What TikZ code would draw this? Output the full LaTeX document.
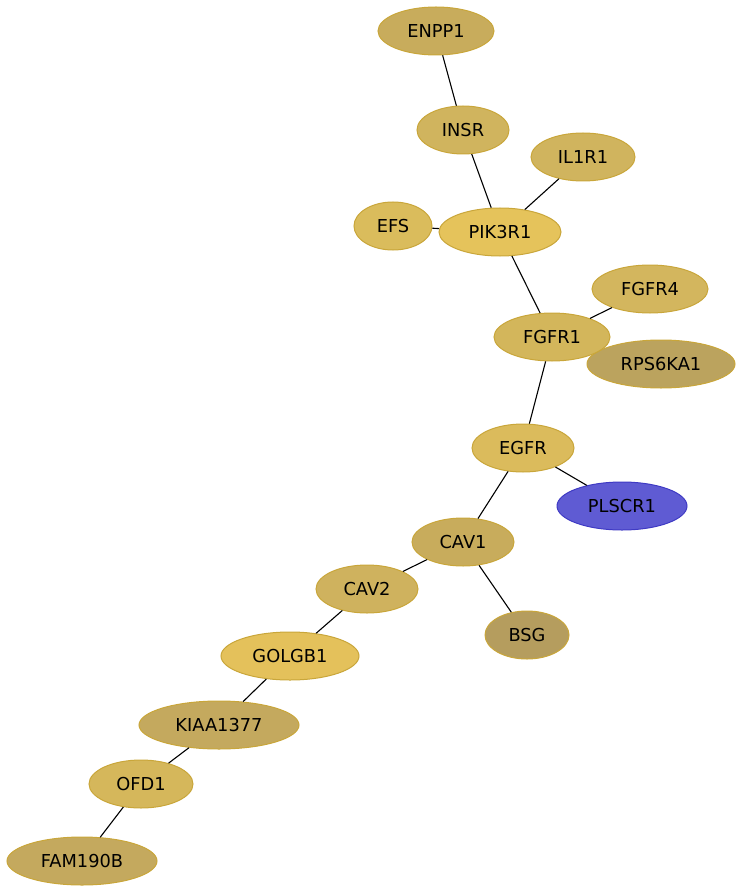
\documentclass[tikz,border=0pt]{standalone}
\usepackage{fontspec}
\setmainfont{DejaVu Sans}
\usetikzlibrary{shapes.geometric}
\definecolor{cENPP}{HTML}{C8AC5C}
\definecolor{cINSR}{HTML}{D0B45E}
\definecolor{cIL}{HTML}{D0B45E}
\definecolor{cEFS}{HTML}{DABC5C}
\definecolor{cPIK}{HTML}{E5C35B}
\definecolor{cFGFRf}{HTML}{D3B65E}
\definecolor{cFGFRo}{HTML}{D3B65B}
\definecolor{cRPS}{HTML}{BBA35E}
\definecolor{cEGFR}{HTML}{DBBB5C}
\definecolor{cPLS}{HTML}{5F5BD3}
\definecolor{cCAVa}{HTML}{C8AC5C}
\definecolor{cCAVb}{HTML}{CFB25E}
\definecolor{cBSG}{HTML}{B59D5E}
\definecolor{cGOL}{HTML}{E4C15B}
\definecolor{cKIA}{HTML}{C4A95E}
\definecolor{cOFD}{HTML}{D5B75B}
\definecolor{cFAM}{HTML}{C4A95E}
\definecolor{goldline}{HTML}{C9A63A}
\definecolor{blueline}{HTML}{3F3AC4}
\tikzset{
  prot/.style={ellipse, draw=goldline, line width=1pt, inner sep=0pt,
    minimum height=48pt, font=\fontsize{17.8}{20}\selectfont, text=black},
  edge/.style={draw=black, line width=1.1pt}
}
\begin{document}
\begin{tikzpicture}[x=1pt,y=-1pt]
\useasboundingbox (0,0) rectangle (743,893);
\coordinate (hidA) at (590,352);
\coordinate (hidB) at (603,348);
\draw[edge] (hidA) -- (hidB);
\node[prot, fill=cENPP, minimum width=116pt] (ENPP1) at (436,31) {ENPP1};
\node[prot, fill=cINSR, minimum width=92pt] (INSR) at (463,130) {INSR};
\node[prot, fill=cIL, minimum width=104pt] (IL1R1) at (583,157) {IL1R1};
\node[prot, fill=cEFS, minimum width=78pt] (EFS) at (393,226) {EFS};
\node[prot, fill=cPIK, minimum width=122pt] (PIK3R1) at (500,232) {PIK3R1};
\node[prot, fill=cFGFRf, minimum width=116pt] (FGFR4) at (650,289) {FGFR4};
\node[prot, fill=cRPS, minimum width=148pt] (RPS6KA1) at (661,364) {RPS6KA1};
\node[prot, fill=cFGFRo, minimum width=116pt] (FGFR1) at (552,337) {FGFR1};
\node[prot, fill=cEGFR, minimum width=102pt] (EGFR) at (523,448) {EGFR};
\node[prot, fill=cPLS, draw=blueline, minimum width=130pt] (PLSCR1) at (622,506) {PLSCR1};
\node[prot, fill=cCAVa, minimum width=102pt] (CAV1) at (463,542) {CAV1};
\node[prot, fill=cCAVb, minimum width=102pt] (CAV2) at (367,589) {CAV2};
\node[prot, fill=cBSG, minimum width=84pt] (BSG) at (527,635) {BSG};
\node[prot, fill=cGOL, minimum width=138pt] (GOLGB1) at (290,656) {GOLGB1};
\node[prot, fill=cKIA, minimum width=160pt] (KIAA1377) at (219,725) {KIAA1377};
\node[prot, fill=cOFD, minimum width=104pt] (OFD1) at (141,784) {OFD1};
\node[prot, fill=cFAM, minimum width=150pt] (FAM190B) at (82,861) {FAM190B};
\draw[edge] (ENPP1) -- (INSR);
\draw[edge] (INSR) -- (PIK3R1);
\draw[edge] (IL1R1) -- (PIK3R1);
\draw[edge] (EFS) -- (PIK3R1);
\draw[edge] (PIK3R1) -- (FGFR1);
\draw[edge] (FGFR4) -- (FGFR1);
\draw[edge] (FGFR1) -- (EGFR);
\draw[edge] (EGFR) -- (PLSCR1);
\draw[edge] (EGFR) -- (CAV1);
\draw[edge] (CAV1) -- (CAV2);
\draw[edge] (CAV1) -- (BSG);
\draw[edge] (CAV2) -- (GOLGB1);
\draw[edge] (GOLGB1) -- (KIAA1377);
\draw[edge] (KIAA1377) -- (OFD1);
\draw[edge] (OFD1) -- (FAM190B);
\end{tikzpicture}
\end{document}
